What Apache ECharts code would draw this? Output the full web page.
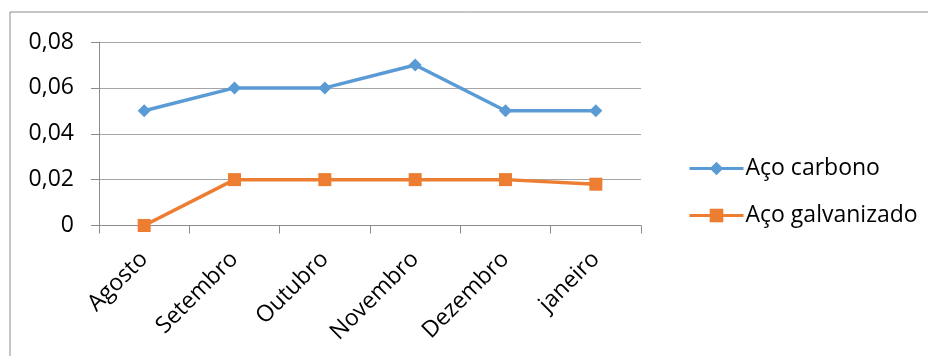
<!DOCTYPE html>
<html>
<head>
<meta charset="utf-8">
<script src="https://cdn.jsdelivr.net/npm/echarts@6/dist/echarts.min.js"></script>
<style>
  html, body { margin: 0; padding: 0; background: #fff; }
  #chart { width: 928px; height: 356px; }
</style>
</head>
<body>
<div id="chart"></div>
<script>
// Monthly corrosion rates for two steel types
const months = ['Agosto', 'Setembro', 'Outubro', 'Novembro', 'Dezembro', 'janeiro'];
const acoCarbono = [0.05, 0.06, 0.06, 0.07, 0.05, 0.05];
const acoGalvanizado = [0, 0.02, 0.02, 0.02, 0.02, 0.018];
const yTicks = [0, 0.02, 0.04, 0.06, 0.08];

const FONT = '"Open Sans", "Noto Sans", sans-serif';
const FONT_SIZE = 23;
const AXIS_GREY = '#8c8c8c';

const chart = echarts.init(document.getElementById('chart'), null, { renderer: 'canvas' });

chart.setOption({
  animation: false,
  backgroundColor: '#ffffff',
  textStyle: { fontFamily: FONT },
  graphic: [
    {
      type: 'polyline',
      shape: { points: [[10, 400], [10, 12], [940, 12]] },
      style: { stroke: AXIS_GREY, lineWidth: 1, fill: null },
      silent: true
    }
  ],
  grid: { left: 99, right: 287, top: 42, bottom: 130.5, containLabel: false },
  legend: {
    orient: 'vertical',
    left: 683,
    top: 152,
    itemWidth: 54,
    itemHeight: 17,
    itemGap: 24,
    lineStyle: { width: 3 },
    textStyle: { fontFamily: FONT, fontSize: FONT_SIZE, color: '#000', padding: [0, 0, 0, -3] },
    data: ['Aço carbono', 'Aço galvanizado']
  },
  xAxis: {
    type: 'category',
    data: months,
    boundaryGap: true,
    axisLine: { lineStyle: { color: AXIS_GREY, width: 1 } },
    axisTick: { show: true, length: 8, inside: false, lineStyle: { color: AXIS_GREY } },
    axisLabel: {
      rotate: 45,
      margin: 30,
      fontFamily: FONT,
      fontSize: FONT_SIZE,
      color: '#000'
    },
    splitLine: { show: false }
  },
  yAxis: {
    type: 'value',
    min: yTicks[0],
    max: yTicks[yTicks.length - 1],
    interval: yTicks[1] - yTicks[0],
    axisLine: { show: true, lineStyle: { color: AXIS_GREY, width: 1 } },
    axisTick: { show: true, length: 8, lineStyle: { color: AXIS_GREY } },
    axisLabel: {
      margin: 25,
      fontFamily: FONT,
      fontSize: FONT_SIZE,
      color: '#000',
      formatter: v => (v === 0 ? '0' : v.toFixed(2).replace('.', ','))
    },
    splitLine: { show: true, lineStyle: { color: '#a6a6a6', width: 1 } }
  },
  series: [
    {
      name: 'Aço carbono',
      type: 'line',
      data: acoCarbono,
      color: '#5b9bd5',
      symbol: 'diamond',
      symbolSize: 13,
      lineStyle: { width: 3.5, color: '#5b9bd5' },
      itemStyle: { color: '#5b9bd5' }
    },
    {
      name: 'Aço galvanizado',
      type: 'line',
      data: acoGalvanizado,
      color: '#ed7d31',
      symbol: 'rect',
      symbolSize: 13,
      lineStyle: { width: 3.5, color: '#ed7d31' },
      itemStyle: { color: '#ed7d31' }
    }
  ]
});
</script>
</body>
</html>
